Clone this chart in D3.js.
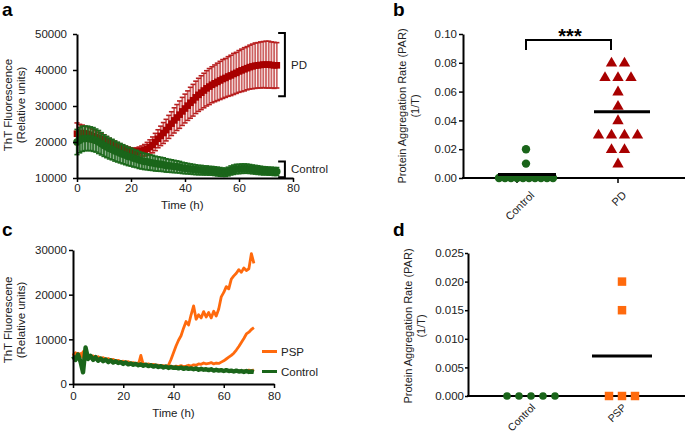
<!DOCTYPE html>
<html>
<head>
<meta charset="utf-8">
<script src="https://cdn.jsdelivr.net/npm/d3@7"></script>
<style>
  body { margin: 0; background: #fff; }
  svg { font-family: Arial, "Liberation Sans", sans-serif; }
  .axis .domain { stroke: #000; stroke-width: 2; }
  .axis .tick line { stroke: #000; stroke-width: 1.5; }
  .axis .tick text { fill: #222; }
</style>
</head>
<body>
<svg id="fig" width="685" height="434"></svg>
<script>
"use strict";

//
/* Data: */
//

// Panel a: hourly ThT readings, 0..74 h
var pdMean = [22300,22400,22500,22400,22200,22000,21700,21400,21100,20800,
              20500,20100,19700,19300,19000,18600,18300,18000,17800,17600,
              17400,17300,17300,17400,17500,17700,18100,18600,19200,20000,
              20900,21700,22500,23300,24200,25100,26000,26800,27600,28500,
              29300,30100,30900,31600,32400,33100,33700,34300,34900,35400,
              35900,36300,36700,37100,37500,37800,38200,38500,38900,39200,
              39600,39900,40200,40500,40800,41000,41200,41300,41400,41500,
              41500,41500,41400,41300,41300];
var pdErr = [3000,2500,2200,2000,2000,1900,1800,1700,1600,1500,
             1500,1400,1300,1300,1200,1200,1100,1100,1000,1000,
             1000,1000,1100,1200,1400,1600,1800,2000,2200,2400,
             2500,2700,2900,3000,3200,3300,3500,3600,3800,3900,
             4000,4100,4300,4400,4500,4600,4700,4800,4900,5000,
             5000,5100,5200,5300,5400,5400,5500,5600,5700,5700,
             5800,5900,6000,6000,6100,6200,6300,6300,6400,6400,
             6500,6500,6400,6400,6300];
var ctrlMean = [20000,20500,20900,21000,21000,20900,20700,20400,20000,19500,
                19000,18600,18200,17900,17500,17200,16900,16600,16300,16000,
                15800,15500,15300,15000,14800,14600,14500,14300,14200,14000,
                13900,13800,13700,13500,13400,13300,13200,13100,13000,12800,
                12700,12600,12500,12400,12300,12200,12200,12100,12100,12000,
                12000,11900,11800,11700,11600,11600,11800,12100,12300,12500,
                12500,12600,12600,12600,12500,12400,12300,12200,12100,12000,
                12000,11900,11900,11800,11800];
var ctrlErr = [3500,3500,3500,3400,3400,3300,3300,3200,3200,3100,
               3000,2950,2900,2850,2800,2750,2700,2650,2600,2550,
               2500,2450,2400,2350,2300,2250,2200,2150,2100,2050,
               2000,1950,1900,1850,1800,1750,1700,1650,1600,1550,
               1500,1450,1400,1400,1350,1300,1300,1250,1250,1200,
               1200,1200,1200,1200,1150,1150,1200,1250,1300,1300,
               1300,1300,1300,1250,1250,1200,1200,1200,1150,1150,
               1100,1100,1100,1100,1100];

// Panel b: PAR per subject
var parCtrlB = [0.02, 0.01, 0, 0, 0, 0, 0, 0, 0, 0, 0, 0];
var parPD = [0.08, 0.08, 0.07, 0.07, 0.07, 0.06, 0.05, 0.04, 0.03, 0.03, 0.03, 0.03, 0.02, 0.02, 0.01];

// Panel c: single traces, hourly 0..72 h
var psp1 = [6800,6300,6900,6200,7200,6400,6600,6100,6300,5900,
            6100,5700,5900,5500,5700,5400,5500,5200,5300,5000,
            5100,4900,5000,4700,4800,4600,4700,4500,4600,4400,
            4500,4300,4400,4200,4200,4000,4100,3900,4200,5500,
            7000,8500,9800,10800,12500,14000,13200,15500,17500,14500,
            15500,14800,16200,15000,16000,14800,16300,15200,16800,19500,
            20500,21800,21300,23500,24200,24800,25600,25000,26000,25400,
            25800,29200,27000];
var psp2 = [6500,7000,6200,6800,6000,6600,5900,6300,5700,6100,
            5600,5800,5400,5600,5200,5400,5000,5200,4900,5000,
            4700,4900,4600,4700,4500,4600,4400,4500,4300,4400,
            4200,4300,4100,4200,4000,4100,3900,4000,3900,4000,
            3800,4000,3900,4100,3900,4000,4200,4000,4300,4200,
            4500,4400,4700,4500,4600,4800,4500,4700,4600,4900,
            5200,5600,6000,6400,6900,7600,8400,9300,10200,11200,
            11600,12200,12600];
var psp3 = [6300,6900,6100,6700,6000,6500,5800,6200,5600,6000,
            5500,5700,5300,5500,5100,5300,4900,5100,4800,4900,
            4600,4800,4500,4600,4400,4500,4300,6400,4300,4200,
            4100,4200,4000,4100,3900,4000,3800,3900,3700,3800,
            3700,3700,3600,3700,3500,3600,3500,3500,3400,3500,
            3300,3400,3300,3300,3200,3300,3100,3200,3100,3100,
            3000,3100,3000,3000,2900,3000,2900,2900,2900,3000,
            3100,2900,3200];
var ctrlC = [6200,5400,6600,5000,2600,8200,5600,6300,5400,6000,
             5200,5700,5100,5500,4900,5300,4800,5100,4700,4900,
             4500,4800,4400,4600,4300,4500,4200,4400,4100,4300,
             4000,4200,3900,4100,3800,4000,3700,3900,3600,3800,
             3600,3700,3500,3700,3400,3600,3400,3500,3300,3500,
             3200,3400,3200,3300,3100,3300,3000,3200,3000,3100,
             2900,3100,2900,3000,2800,3000,2800,2900,2700,2900,
             2700,2800,2700];

// Panel d: PAR per subject
var parCtrlD = [0, 0, 0, 0, 0];
var parPSP = [0.02, 0.015, 0, 0, 0];

// Ticks
var ticksA = [10000, 20000, 30000, 40000, 50000];
var ticksTime = [0, 20, 40, 60, 80];
var ticksB = [0, 0.02, 0.04, 0.06, 0.08, 0.10];
var ticksC = [0, 10000, 20000, 30000];
var ticksD = [0, 0.005, 0.010, 0.015, 0.020, 0.025];

//
/* Colours: */
//
var RED = "#a80000", RED_BAR = "#b82020";
var GREEN = "#1a651a", GREEN_BAR = "#1c691c";
var ORANGE = "#ff6a0d";

var svg = d3.select("#fig");

var styleAxis = function(g, size)
{
    g.attr("class", "axis").attr("font-family", null).attr("font-size", null);
    g.selectAll(".tick text").style("font-size", size + "px");
};

var panelLetter = function(txt, x, y)
{
    svg.append("text").attr("x", x).attr("y", y)
        .style("font-size", "19px").style("font-weight", "bold").text(txt);
};

var yTitle = function(lines, xs, cy, size)
{
    lines.forEach(function(t, i) {
        svg.append("text")
            .attr("transform", "translate(" + xs[i] + "," + cy + ") rotate(-90)")
            .attr("text-anchor", "middle").attr("dy", "0.35em")
            .style("font-size", size + "px").style("fill", "#222")
            .text(t);
    });
};

// spreads equal values sideways, like a column scatter
var swarm = function(vals, cx, spacing)
{
    var counts = d3.rollup(vals, function(v) { return v.length; }, function(d) { return d; });
    var seen = new Map();
    return vals.map(function(v) {
        var n = counts.get(v), i = seen.get(v) || 0;
        seen.set(v, i + 1);
        return { v: v, x: cx + (i - (n - 1) / 2) * spacing };
    });
};

//
/* Panel a: */
//
var xA = d3.scaleLinear().domain([0, 80]).range([77, 293]);
var yA = d3.scaleLinear().domain([10000, 50000]).range([178, 34]);

var drawErrorSeries = function(g, mean, err, barColor, color, marker, barW, barOp)
{
    var pts = mean.map(function(m, i) { return { t: i, m: m, e: err[i] }; });
    var bars = g.append("g").attr("stroke", barColor).attr("stroke-width", barW).attr("opacity", barOp);
    bars.selectAll(".eb").data(pts).enter().append("line")
        .attr("x1", function(d) { return xA(d.t); }).attr("x2", function(d) { return xA(d.t); })
        .attr("y1", function(d) { return yA(d.m - d.e); }).attr("y2", function(d) { return yA(d.m + d.e); });
    var caps = g.append("g").attr("stroke", barColor).attr("stroke-width", 1.6);
    caps.selectAll(".capT").data(pts).enter().append("line")
        .attr("x1", function(d) { return xA(d.t) - 2.6; }).attr("x2", function(d) { return xA(d.t) + 2.6; })
        .attr("y1", function(d) { return yA(d.m + d.e); }).attr("y2", function(d) { return yA(d.m + d.e); });
    caps.selectAll(".capB").data(pts).enter().append("line")
        .attr("x1", function(d) { return xA(d.t) - 2.6; }).attr("x2", function(d) { return xA(d.t) + 2.6; })
        .attr("y1", function(d) { return yA(d.m - d.e); }).attr("y2", function(d) { return yA(d.m - d.e); });
    g.append("g").selectAll("path").data(pts).enter().append("path")
        .attr("transform", function(d) { return "translate(" + xA(d.t) + "," + yA(d.m) + ")"; })
        .attr("d", d3.symbol(marker).size(44))
        .attr("fill", color);
};

var gA = svg.append("g");
drawErrorSeries(gA, pdMean, pdErr, RED_BAR, RED, d3.symbolSquare, 1.8, 0.7);
drawErrorSeries(gA, ctrlMean, ctrlErr, GREEN_BAR, GREEN, d3.symbolCircle, 2.3, 0.9);

svg.append("g").attr("transform", "translate(0,178)")
    .call(d3.axisBottom(xA).tickValues(ticksTime).tickSize(4).tickPadding(2).tickSizeOuter(0))
    .call(styleAxis, 11.5);
svg.append("g").attr("transform", "translate(77,0)")
    .call(d3.axisLeft(yA).tickValues(ticksA).tickFormat(d3.format("d")).tickSize(4).tickPadding(6).tickSizeOuter(0))
    .call(styleAxis, 11.5);

// group brackets
var bracket = function(x0, x1, yTop, yBot)
{
    svg.append("path")
        .attr("d", "M" + x0 + "," + yTop + "H" + x1 + "V" + yBot + "H" + x0)
        .attr("fill", "none").attr("stroke", "#000").attr("stroke-width", 2);
};
bracket(xA(74.5), xA(77), yA(50300), yA(32700));
bracket(xA(74.5), xA(77), yA(14600), yA(10200));
svg.append("text").attr("x", 291).attr("y", yA(41300) + 4).style("font-size", "11.5px").style("fill", "#222").text("PD");
svg.append("text").attr("x", 291).attr("y", yA(12400) + 4).style("font-size", "11.5px").style("fill", "#222").text("Control");

svg.append("text").attr("x", xA(39)).attr("y", 209).attr("text-anchor", "middle")
    .style("font-size", "11.5px").style("fill", "#222").text("Time (h)");
yTitle(["ThT Fluorescence", "(Relative units)"], [8, 21], 105, 11.5);
panelLetter("a", 2, 16);

//
/* Panel b: */
//
var catsB = ["Control", "PD"];
var xB = d3.scalePoint().domain(catsB).range([526, 618]);
var yB = d3.scaleLinear().domain([0, 0.1]).range([178, 34]);

svg.append("g").attr("transform", "translate(463,0)")
    .call(d3.axisLeft(yB).tickValues(ticksB).tickFormat(d3.format(".2f")).tickSize(4).tickPadding(2).tickSizeOuter(0))
    .call(styleAxis, 11.5);
svg.append("line").attr("x1", 462).attr("x2", 685).attr("y1", yB(0)).attr("y2", yB(0))
    .attr("stroke", "#000").attr("stroke-width", 2);
var tickShiftB = { Control: -9, PD: 0 };
catsB.forEach(function(c) {
    svg.append("line").attr("x1", xB(c) + tickShiftB[c]).attr("x2", xB(c) + tickShiftB[c])
        .attr("y1", yB(0)).attr("y2", yB(0) + 5).attr("stroke", "#000").attr("stroke-width", 1.5);
});

svg.append("g").selectAll("circle").data(swarm(parCtrlB, xB("Control"), 6)).enter().append("circle")
    .attr("cx", function(d) { return d.x; }).attr("cy", function(d) { return yB(d.v); })
    .attr("r", 4.2).attr("fill", GREEN);
svg.append("g").selectAll("path").data(swarm(parPD, xB("PD"), 13)).enter().append("path")
    .attr("transform", function(d) { return "translate(" + d.x + "," + (yB(d.v) + 0.5) + ")"; })
    .attr("d", d3.symbol(d3.symbolTriangle).size(56))
    .attr("fill", RED);

var meanLine = function(x, y, half)
{
    svg.append("line").attr("x1", x - half).attr("x2", x + half).attr("y1", y).attr("y2", y)
        .attr("stroke", "#000").attr("stroke-width", 3);
};
meanLine(xB("Control") + 1, yB(d3.mean(parCtrlB)), 29);
meanLine(xB("PD") + 4, yB(d3.mean(parPD)), 28);

// significance bracket
svg.append("path").attr("d", "M" + xB("Control") + "," + 50 + "V40H" + (xB("PD") - 7) + "V50")
    .attr("fill", "none").attr("stroke", "#000").attr("stroke-width", 2);
svg.append("text").attr("x", 570).attr("y", 43).attr("text-anchor", "middle")
    .style("font-size", "20px").style("font-weight", "bold").text("***");

catsB.forEach(function(c) {
    svg.append("text")
        .attr("transform", "translate(" + (xB(c) + 9) + "," + (yB(0) + 18) + ") rotate(-45)")
        .attr("text-anchor", "end").style("font-size", "11px").style("fill", "#222").text(c);
});
yTitle(["Protein Aggregation Rate (PAR)", "(1/T)"], [402, 415], 106, 11);
panelLetter("b", 393, 16);

//
/* Panel c: */
//
var xC = d3.scaleLinear().domain([0, 80]).range([73, 274]);
var yC = d3.scaleLinear().domain([0, 30000]).range([384, 250]);
var lineC = d3.line().x(function(d, i) { return xC(i); }).y(function(d) { return yC(d); });

[psp3, psp2, psp1].forEach(function(s) {
    svg.append("path").datum(s).attr("d", lineC)
        .attr("fill", "none").attr("stroke", ORANGE).attr("stroke-width", 2.8).attr("stroke-linejoin", "round");
});
svg.append("path").datum(ctrlC).attr("d", lineC)
    .attr("fill", "none").attr("stroke", GREEN).attr("stroke-width", 4.4).attr("stroke-linejoin", "round");

svg.append("g").attr("transform", "translate(0,384)")
    .call(d3.axisBottom(xC).tickValues(ticksTime).tickSize(4).tickPadding(4).tickSizeOuter(0))
    .call(styleAxis, 11.5);
svg.append("g").attr("transform", "translate(73,0)")
    .call(d3.axisLeft(yC).tickValues(ticksC).tickFormat(d3.format("d")).tickSize(4).tickPadding(2).tickSizeOuter(0))
    .call(styleAxis, 11.5);

var legendC = [{ name: "PSP", color: ORANGE, y: 351.5 }, { name: "Control", color: GREEN, y: 371.5 }];
legendC.forEach(function(l) {
    svg.append("line").attr("x1", 262).attr("x2", 277).attr("y1", l.y).attr("y2", l.y)
        .attr("stroke", l.color).attr("stroke-width", 3);
    svg.append("text").attr("x", 281).attr("y", l.y + 4).style("font-size", "11.5px").style("fill", "#222").text(l.name);
});

svg.append("text").attr("x", xC(40)).attr("y", 417).attr("text-anchor", "middle")
    .style("font-size", "11.5px").style("fill", "#222").text("Time (h)");
yTitle(["ThT Fluorescene", "(Relative units)"], [8, 21], 320, 11.5);
panelLetter("c", 2, 236);

//
/* Panel d: */
//
var catsD = ["Control", "PSP"];
var xD = d3.scalePoint().domain(catsD).range([531, 622]);
var yD = d3.scaleLinear().domain([0, 0.025]).range([396, 253]);

svg.append("g").attr("transform", "translate(468,0)")
    .call(d3.axisLeft(yD).tickValues(ticksD).tickFormat(d3.format(".3f")).tickSize(3).tickPadding(1).tickSizeOuter(0))
    .call(styleAxis, 11.5);
svg.append("line").attr("x1", 467).attr("x2", 685).attr("y1", yD(0)).attr("y2", yD(0))
    .attr("stroke", "#000").attr("stroke-width", 2);

meanLine(xD("PSP"), yD(d3.mean(parPSP)), 30);

svg.append("g").selectAll("circle").data(swarm(parCtrlD, xD("Control"), 12)).enter().append("circle")
    .attr("cx", function(d) { return d.x; }).attr("cy", function(d) { return yD(d.v); })
    .attr("r", 3.8).attr("fill", GREEN);
svg.append("g").selectAll("path").data(swarm(parPSP, xD("PSP"), 13)).enter().append("path")
    .attr("transform", function(d) { return "translate(" + d.x + "," + yD(d.v) + ")"; })
    .attr("d", d3.symbol(d3.symbolSquare).size(72))
    .attr("fill", ORANGE);

catsD.forEach(function(c) {
    svg.append("text")
        .attr("transform", "translate(" + (xD(c) + 5) + "," + (yD(0) + 12) + ") rotate(-45)")
        .attr("text-anchor", "end").style("font-size", "10.5px").style("fill", "#222").text(c);
});
yTitle(["Protein Aggregation Rate (PAR)", "(1/T)"], [408, 421], 326, 11);
panelLetter("d", 393, 236);
</script>
</body>
</html>
